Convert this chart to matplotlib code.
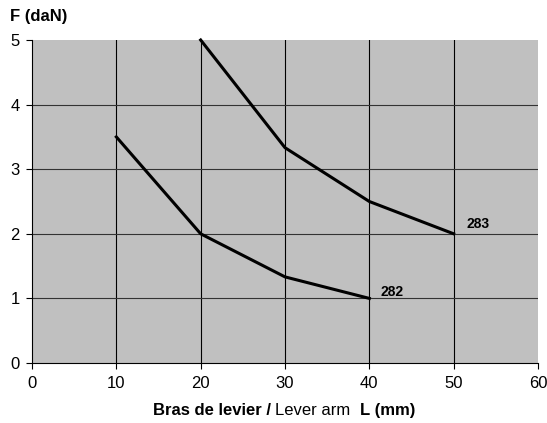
import matplotlib
matplotlib.use("Agg")
import matplotlib.pyplot as plt
from matplotlib.offsetbox import TextArea, HPacker, AnchoredOffsetbox

plt.rcParams['font.family'] = ['Liberation Sans', 'DejaVu Sans']

x_282 = [10, 20, 30, 40]
y_282 = [3.5, 2.0, 1.333, 1.0]
x_283 = [20, 30, 40, 50]
y_283 = [5.0, 3.333, 2.5, 2.0]
xticks = [0, 10, 20, 30, 40, 50, 60]
yticks = [0, 1, 2, 3, 4, 5]

fig = plt.figure(figsize=(5.47, 4.23), dpi=100)
ax = fig.add_axes([32/547, 60/423, 506/547, 323/423])
ax.set_facecolor('#C0C0C0')
ax.set_xlim(0, 60)
ax.set_ylim(0, 5)
ax.set_xticks(xticks)
ax.set_yticks(yticks)
for v in xticks[1:-1]:
    ax.axvline(v, color='black', lw=0.8, zorder=1)
for v in yticks[1:-1]:
    ax.axhline(v, color='#333333', lw=0.8, zorder=1)
ax.plot(x_282, y_282, color='black', lw=2.2, zorder=3, clip_on=False)
ax.plot(x_283, y_283, color='black', lw=2.2, zorder=3, clip_on=False)
ax.text(41.3, 1.1, '282', fontsize=10, fontweight='bold', va='center', ha='left')
ax.text(51.5, 2.15, '283', fontsize=10, fontweight='bold', va='center', ha='left')

for s in ['top', 'right']:
    ax.spines[s].set_visible(False)
for s in ['left', 'bottom']:
    ax.spines[s].set_color('black')
    ax.spines[s].set_linewidth(0.8)
ax.tick_params(direction='out', length=4, width=0.8, labelsize=12, pad=5)

fig.text(10/547, 1 - 16/423, 'F (daN)', fontsize=12, fontweight='bold', va='center', ha='left')

parts = [TextArea('Bras de levier / ', textprops=dict(fontsize=12, fontweight='bold')),
         TextArea('Lever arm  ', textprops=dict(fontsize=12)),
         TextArea('L (mm)', textprops=dict(fontsize=12, fontweight='bold'))]
box = HPacker(children=parts, align='baseline', pad=0, sep=0)
ab = AnchoredOffsetbox(loc='center', child=box, frameon=False,
                       bbox_to_anchor=(284/547, 1 - 410/423), bbox_transform=fig.transFigure, pad=0, borderpad=0)
fig.add_artist(ab)

fig.savefig('out.png', dpi=100)
